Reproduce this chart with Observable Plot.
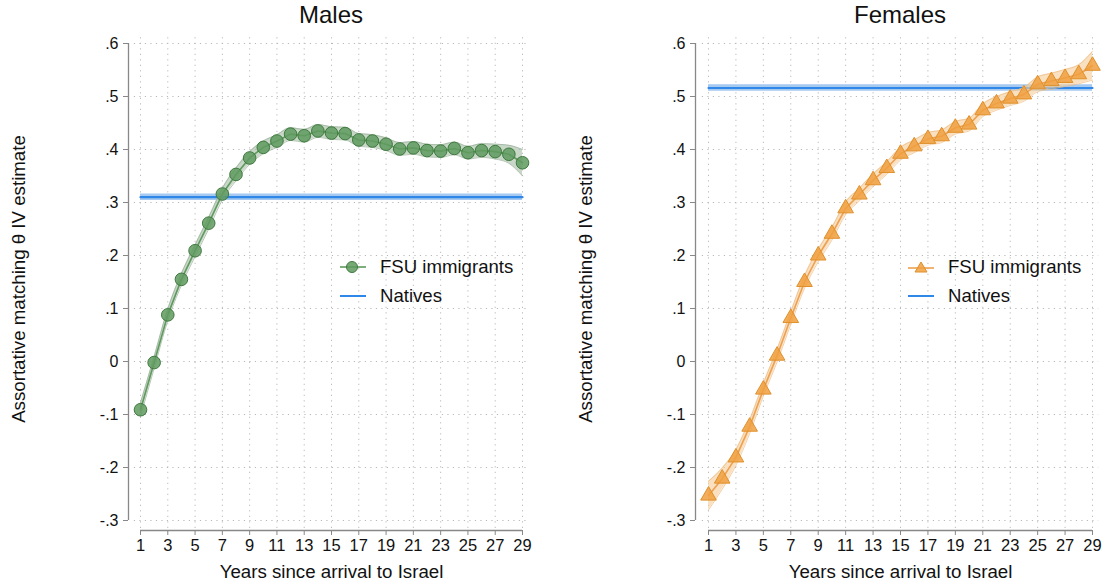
<!DOCTYPE html>
<html>
<head>
<meta charset="utf-8">
<script src="https://cdn.jsdelivr.net/npm/d3@7"></script>
<script src="https://cdn.jsdelivr.net/npm/@observablehq/plot@0.6"></script>
<style>
  html, body { margin: 0; padding: 0; background: #fff; }
  body { width: 1106px; height: 588px; position: relative; overflow: hidden;
         font-family: "Liberation Sans", Arial, Helvetica, sans-serif; color: #111; }
  .panel { position: absolute; top: 34px; }
  .title { position: absolute; top: 1px; font-size: 24px; text-align: center; }
  .legend { position: absolute; font-size: 18.6px; }
  .legend .row { display: flex; align-items: center; height: 29px; }
  .legend svg { margin-right: 12px; }
</style>
</head>
<body>
<div class="title" style="left:140px;width:382px;">Males</div>
<div class="title" style="left:708px;width:384px;">Females</div>
<div id="left" class="panel" style="left:0px;"></div>
<div id="right" class="panel" style="left:568px;"></div>
<div class="legend" style="left:338px;top:252px;">
  <div class="row"><svg width="30" height="16"><line x1="2" x2="28" y1="8" y2="8" stroke="#5e9a5e" stroke-width="1.6"/><circle cx="14" cy="8" r="5.5" fill="#5f9a5f" fill-opacity="0.85" stroke="#3f7a3f"/></svg>FSU immigrants</div>
  <div class="row"><svg width="30" height="16"><line x1="2" x2="28" y1="8" y2="8" stroke="#2f87e8" stroke-width="2"/></svg>Natives</div>
</div>
<div class="legend" style="left:906px;top:252px;">
  <div class="row"><svg width="30" height="16"><line x1="2" x2="28" y1="9" y2="9" stroke="#eea050" stroke-width="1.6"/><path d="M15,3 L21,13 L9,13 Z" fill="#f0a040" fill-opacity="0.85" stroke="#e0902a"/></svg>FSU immigrants</div>
  <div class="row"><svg width="30" height="16"><line x1="2" x2="28" y1="8" y2="8" stroke="#2f87e8" stroke-width="2"/></svg>Natives</div>
</div>
<script>
// ---- data ----
const years = [1,2,3,4,5,6,7,8,9,10,11,12,13,14,15,16,17,18,19,20,21,22,23,24,25,26,27,28,29];
const xTicks = [1,3,5,7,9,11,13,15,17,19,21,23,25,27,29];
const yTicks = [-0.3,-0.2,-0.1,0,0.1,0.2,0.3,0.4,0.5,0.6];

const malesFSU = [-0.091,-0.002,0.088,0.155,0.209,0.261,0.316,0.353,0.384,0.404,0.416,0.429,0.426,0.435,0.431,0.430,0.418,0.416,0.410,0.401,0.403,0.398,0.397,0.402,0.394,0.398,0.396,0.391,0.375];
const malesCI  = [0.013,0.011,0.011,0.011,0.011,0.011,0.011,0.012,0.012,0.012,0.012,0.012,0.012,0.012,0.012,0.012,0.012,0.012,0.012,0.012,0.012,0.012,0.012,0.012,0.012,0.013,0.014,0.017,0.025];
const malesNative = 0.310, malesNativeCI = 0.006;

const femalesFSU = [-0.253,-0.221,-0.181,-0.123,-0.053,0.011,0.082,0.150,0.200,0.241,0.289,0.315,0.342,0.365,0.392,0.406,0.420,0.425,0.441,0.447,0.474,0.487,0.496,0.504,0.523,0.529,0.535,0.542,0.558];
const femalesCI  = [0.027,0.020,0.015,0.013,0.012,0.012,0.012,0.012,0.012,0.012,0.012,0.012,0.012,0.012,0.012,0.012,0.012,0.012,0.012,0.012,0.012,0.013,0.013,0.013,0.014,0.015,0.016,0.018,0.027];
const femalesNative = 0.516, femalesNativeCI = 0.006;

const yLabel = "Assortative matching θ IV estimate";
const xLabel = "Years since arrival to Israel";

const fmt = d => d === 0 ? "0" : (d < 0 ? "-" : "") + "." + Math.round(Math.abs(d) * 10);

function panel({values, ci, nat, natCI, width, marginRight, yAxisDx, ylabDx, col}) {
  const rows = years.map((x, i) => ({x, y: values[i], lo: values[i] - ci[i], hi: values[i] + ci[i]}));
  const natRows = [years[0], years[years.length - 1]].map(x => ({x, y: nat, lo: nat - natCI, hi: nat + natCI}));
  const dotted = {stroke: "#b8b8b8", strokeWidth: 1, strokeDasharray: "1.2,4.3"};
  const marker = col.triangle
    ? Plot.dot(rows, {x: "x", y: "y", symbol: "triangle", r: 5.8, fill: col.mark, fillOpacity: 0.85, stroke: col.markStroke, strokeWidth: 1})
    : Plot.dot(rows, {x: "x", y: "y", r: 6.3, fill: col.mark, fillOpacity: 0.85, stroke: col.markStroke, strokeWidth: 1});
  return Plot.plot({
    width, height: 554,
    marginLeft: 140, marginRight, marginTop: 9, marginBottom: 68,
    x: {domain: [1, 29]},
    y: {domain: [-0.3, 0.6]},
    style: {fontFamily: "'Liberation Sans', Arial, Helvetica, sans-serif", fontSize: "16px", color: "#111", background: "white"},
    marks: [
      Plot.ruleY(yTicks, {y: d => d, x1: 0.55, x2: 29.45, ...dotted}),
      Plot.ruleX(xTicks, {x: d => d, y1: -0.315, y2: 0.615, ...dotted}),
      // natives band + line
      Plot.areaY(natRows, {x: "x", y1: "lo", y2: "hi", fill: "#8fbcec", fillOpacity: 0.8}),
      Plot.lineY(natRows, {x: "x", y: "y", stroke: "#2f87e8", strokeWidth: 2.2}),
      // FSU band
      Plot.areaY(rows, {x: "x", y1: "lo", y2: "hi", fill: col.band, fillOpacity: 0.65, curve: "monotone-x"}),
      Plot.lineY(rows, {x: "x", y: "lo", stroke: col.bandEdge, strokeWidth: 1, strokeOpacity: 0.7, curve: "monotone-x"}),
      Plot.lineY(rows, {x: "x", y: "hi", stroke: col.bandEdge, strokeWidth: 1, strokeOpacity: 0.7, curve: "monotone-x"}),
      Plot.lineY(rows, {x: "x", y: "y", stroke: col.line, strokeWidth: 1.6}),
      marker,
      // axes
      Plot.ruleX([1], {y1: -0.3, y2: 0.6, dx: yAxisDx, stroke: "#888", strokeWidth: 1.3}),
      Plot.axisY(yTicks, {anchor: "left", tickSize: 5, tickPadding: 5, dx: yAxisDx, tickFormat: fmt, fontSize: 16, stroke: "#888", fill: "#111", label: null}),
      Plot.ruleY([-0.3], {x1: 1, x2: 29, dy: 10, stroke: "#888", strokeWidth: 1.3}),
      Plot.axisX(xTicks, {anchor: "bottom", tickSize: 5, tickPadding: 4, dy: 10, fontSize: 16.5, stroke: "#888", fill: "#111", label: null}),
      Plot.text([yLabel], {frameAnchor: "left", textAnchor: "middle", dx: ylabDx, dy: -3, rotate: -90, fontSize: 18.7, fill: "#111", text: d => d}),
      Plot.text([xLabel], {frameAnchor: "bottom", dy: 57, fontSize: 18.7, fill: "#111", text: d => d})
    ]
  });
}

document.getElementById("left").append(panel({
  values: malesFSU, ci: malesCI, nat: malesNative, natCI: malesNativeCI,
  width: 553, marginRight: 31, yAxisDx: -12, ylabDx: -121,
  col: {mark: "#5f9a5f", markStroke: "#3f7a3f", line: "#5e9a5e", band: "#abc1ab", bandEdge: "#97ae97"}
}));
document.getElementById("right").append(panel({
  values: femalesFSU, ci: femalesCI, nat: femalesNative, natCI: femalesNativeCI,
  width: 538, marginRight: 14, yAxisDx: -13, ylabDx: -122,
  col: {triangle: true, mark: "#f0a040", markStroke: "#e0902a", line: "#eea050", band: "#f5cf9f", bandEdge: "#f0bb80"}
}));
</script>
</body>
</html>
